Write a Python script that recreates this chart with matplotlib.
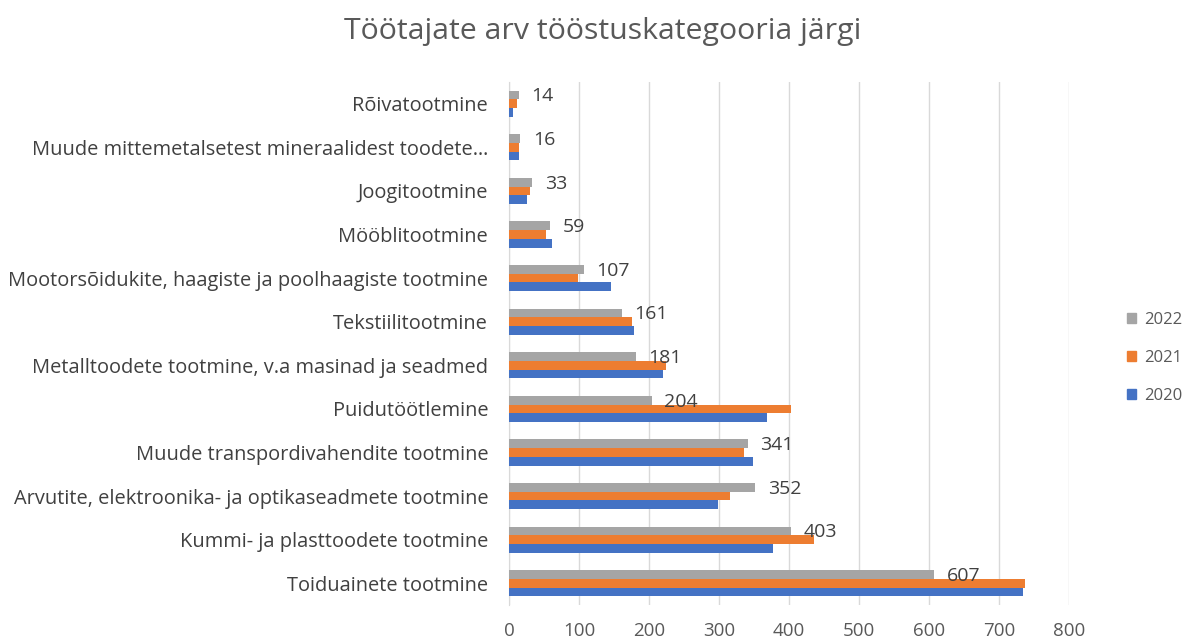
import matplotlib
matplotlib.use("Agg")
import matplotlib.pyplot as plt
import numpy as np
from matplotlib.patches import Patch

categories = [
    "Toiduainete tootmine",
    "Kummi- ja plasttoodete tootmine",
    "Arvutite, elektroonika- ja optikaseadmete tootmine",
    "Muude transpordivahendite tootmine",
    "Puidutöötlemine",
    "Metalltoodete tootmine, v.a masinad ja seadmed",
    "Tekstiilitootmine",
    "Mootorsõidukite, haagiste ja poolhaagiste tootmine",
    "Mööblitootmine",
    "Joogitootmine",
    "Muude mittemetalsetest mineraalidest toodete…",
    "Rõivatootmine",
]
values_2020 = [734, 377, 299, 349, 368, 220, 179, 146, 61, 26, 14, 6]
values_2021 = [737, 436, 315, 335, 403, 224, 176, 98, 53, 30, 14, 11]
values_2022 = [607, 403, 352, 341, 204, 181, 161, 107, 59, 33, 16, 14]
xticks = [0, 100, 200, 300, 400, 500, 600, 700, 800]
title = "Töötajate arv tööstuskategooria järgi"

plt.rcParams['font.family'] = ['Open Sans', 'DejaVu Sans']

fig = plt.figure(figsize=(11.9, 6.43), dpi=100)
ax = fig.add_axes([509/1190, 38/643, 560/1190, 523/643])

y = np.arange(len(categories))
h = 0.2
c2020, c2021, c2022 = "#4472C4", "#ED7D31", "#A5A5A5"
ax.barh(y - h, values_2020, height=h, color=c2020, label="2020", zorder=3)
ax.barh(y, values_2021, height=h, color=c2021, label="2021", zorder=3)
ax.barh(y + h, values_2022, height=h, color=c2022, label="2022", zorder=3)

for yi, v in zip(y, values_2022):
    ax.annotate(str(v), xy=(v, yi + h), xytext=(9, -1), textcoords="offset points",
                ha="left", va="center", fontsize=14, color="#404040", zorder=4)

ax.set_xlim(0, 800)
ax.set_ylim(-0.5, len(categories) - 0.5)
ax.set_xticks(xticks)
ax.set_xticklabels([str(t) for t in xticks], fontsize=13.5, color="#595959")
ax.set_yticks(y)
ax.set_yticklabels(categories, fontsize=14.4, color="#404040")
ax.tick_params(axis="both", length=0)
ax.tick_params(axis="y", pad=15)
ax.tick_params(axis="x", pad=12)
ax.grid(axis="x", color="#D9D9D9", linewidth=1, zorder=0)
for s in ["top", "right", "bottom"]:
    ax.spines[s].set_visible(False)
ax.spines["left"].set_color("#D9D9D9")
ax.spines["left"].set_zorder(1)

fig.text(603/1190, 1 - 31/643, title, ha="center", va="center", fontsize=21.8, color="#595959")

handles = [Patch(color=c2022, label="2022"), Patch(color=c2021, label="2021"), Patch(color=c2020, label="2020")]
fig.legend(handles=handles, loc="center left", bbox_to_anchor=(1112/1190, 1 - 358/643),
           frameon=False, fontsize=12, handlelength=0.55, handleheight=0.55,
           handletextpad=0.5, labelspacing=1.3, labelcolor="#595959")

fig.savefig("out.png", dpi=100)
